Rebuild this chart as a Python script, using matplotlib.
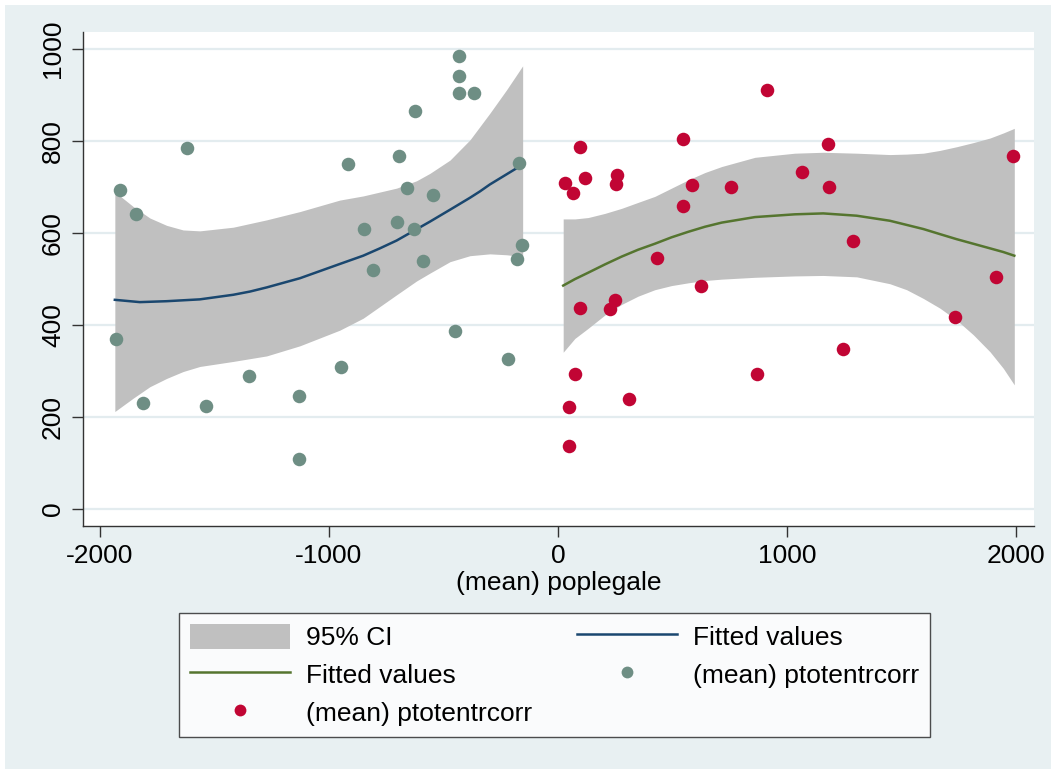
import matplotlib.pyplot as plt
from matplotlib.patches import Patch, Rectangle
from matplotlib.lines import Line2D

plt.rcParams['font.family'] = ['Liberation Sans', 'DejaVu Sans']

# scatter: (mean) ptotentrcorr against (mean) poplegale, below the cutoff
left_x = [-1910, -1843, -1621, -918, -693, -660, -547, -847, -702, -627,
          -807, -587, -622, -431, -431, -431, -365, -169, -155, -180,
          -1930, -1809, -1535, -1350, -1129, -1129, -947, -449, -220]
left_y = [693, 641, 785, 749, 766, 697, 682, 608, 624, 608,
          518, 539, 864, 985, 941, 905, 905, 752, 573, 542,
          368, 230, 223, 289, 245, 108, 307, 386, 325]

# above the cutoff
right_x = [912, 96, 544, 1181, 1987, 29, 64, 120, 256, 254,
           584, 757, 1067, 1182, 544, 433, 1287, 625, 1914, 96,
           227, 250, 1735, 1245, 73, 871, 310, 49, 49]
right_y = [911, 787, 803, 792, 766, 708, 687, 720, 725, 706,
           704, 700, 732, 699, 658, 545, 583, 484, 503, 436,
           433, 454, 416, 348, 292, 292, 238, 221, 136]

# quadratic fit and 95% CI, left side
fit_l_x = [-1934, -1825, -1708, -1563, -1417, -1344, -1271, -1126, -952,
           -850, -777, -704, -559, -471, -384, -340, -297, -188, -154]
fit_l_y = [454, 449, 451, 455, 465, 472, 481, 501, 532,
           550, 566, 583, 624, 650, 676, 690, 705, 738, 748]
ci_l_x = [-1934, -1854, -1781, -1708, -1636, -1563, -1417, -1271, -1126, -952,
          -850, -704, -617, -559, -471, -384, -297, -224, -154]
ci_l_hi = [689, 657, 632, 616, 606, 604, 612, 628, 646, 671,
           680, 697, 713, 729, 758, 802, 860, 911, 963]
ci_l_lo = [211, 240, 265, 283, 298, 309, 320, 332, 354, 388,
           414, 465, 495, 512, 537, 550, 554, 552, 548]

# quadratic fit and 95% CI, right side
ci_r_x = [23, 74, 132, 205, 278, 350, 423, 496, 569, 642, 715, 860, 1034,
          1158, 1304, 1449, 1522, 1595, 1667, 1740, 1813, 1886, 1944, 1992]
fit_r_y = [485, 499, 513, 531, 548, 563, 576, 590, 602, 613, 622, 634, 640,
           642, 637, 626, 617, 608, 597, 586, 576, 566, 558, 550]
ci_r_hi = [630, 630, 633, 642, 653, 666, 679, 697, 715, 731, 744, 764, 773,
           775, 773, 770, 771, 773, 779, 787, 796, 806, 817, 827]
ci_r_lo = [340, 370, 392, 421, 444, 462, 476, 485, 491, 496, 499, 503, 506,
           507, 504, 489, 476, 457, 436, 410, 378, 341, 305, 269]

x_ticks = [-2000, -1000, 0, 1000, 2000]
y_ticks = [0, 200, 400, 600, 800, 1000]

bg = '#E8F0F2'
grid_c = '#E3ECEF'
band_c = '#C0C0C0'
navy = '#1A476F'
forest = '#55752F'
teal = '#6E8E84'
cranberry = '#C10534'

fig = plt.figure(figsize=(10.51, 7.69), dpi=100, facecolor='white')
fig.patches.append(Rectangle((5 / 1051, 0), 1, 1 - 5 / 769, transform=fig.transFigure,
                             facecolor=bg, edgecolor='none', zorder=-10))

ax = fig.add_axes([83 / 1051, 1 - 525.7 / 769, (1034 - 83) / 1051, (525.7 - 32.3) / 769])
ax.set_facecolor('white')

ax.fill_between(ci_l_x, ci_l_lo, ci_l_hi, color=band_c, linewidth=0, zorder=1)
ax.fill_between(ci_r_x, ci_r_lo, ci_r_hi, color=band_c, linewidth=0, zorder=1)
ax.plot(fit_l_x, fit_l_y, color=navy, linewidth=1.8, zorder=2)
ax.plot(ci_r_x, fit_r_y, color=forest, linewidth=1.8, zorder=2)
ax.scatter(left_x, left_y, s=95, color=teal, linewidths=0, zorder=3)
ax.scatter(right_x, right_y, s=95, color=cranberry, linewidths=0, zorder=3)

ax.set_xlim(-2073, 2078)
ax.set_ylim(-37.4, 1036)
ax.set_xticks(x_ticks)
ax.set_yticks(y_ticks)
ax.set_xticklabels([str(v) for v in x_ticks])
ax.set_yticklabels([str(v) for v in y_ticks], rotation=90, va='center')
ax.tick_params(axis='both', labelsize=19, length=8, width=1, color='#333333', pad=5)
ax.yaxis.grid(True, color=grid_c, linewidth=1.6, zorder=0)
ax.set_axisbelow(True)
for side in ['top', 'right']:
    ax.spines[side].set_visible(False)
for side in ['left', 'bottom']:
    ax.spines[side].set_color('#333333')
    ax.spines[side].set_linewidth(1.0)

ax.set_xlabel('(mean) poplegale', fontsize=19, labelpad=2)

handles = [
    Patch(facecolor=band_c, edgecolor='none'),
    Line2D([], [], color=forest, linewidth=1.8),
    Line2D([], [], color=cranberry, marker='o', linestyle='none', markersize=8.5,
           markeredgewidth=0),
    Line2D([], [], color=navy, linewidth=1.8),
    Line2D([], [], color=teal, marker='o', linestyle='none', markersize=8.5,
           markeredgewidth=0),
]
labels = ['95% CI', 'Fitted values', '(mean) ptotentrcorr',
          'Fitted values', '(mean) ptotentrcorr']
leg = fig.legend(handles, labels, ncol=2, loc='upper left',
                 bbox_to_anchor=(179 / 1051, 1 - 613 / 769), bbox_transform=fig.transFigure,
                 borderaxespad=0, fontsize=19, frameon=True, fancybox=False,
                 handlelength=3.8, handleheight=1.1, handletextpad=0.6,
                 columnspacing=1.72, labelspacing=0.43, borderpad=0.4)
leg.get_frame().set_edgecolor('#222222')
leg.get_frame().set_linewidth(1.0)
leg.get_frame().set_facecolor('white')

fig.savefig('out.png', dpi=100, facecolor=fig.get_facecolor())
